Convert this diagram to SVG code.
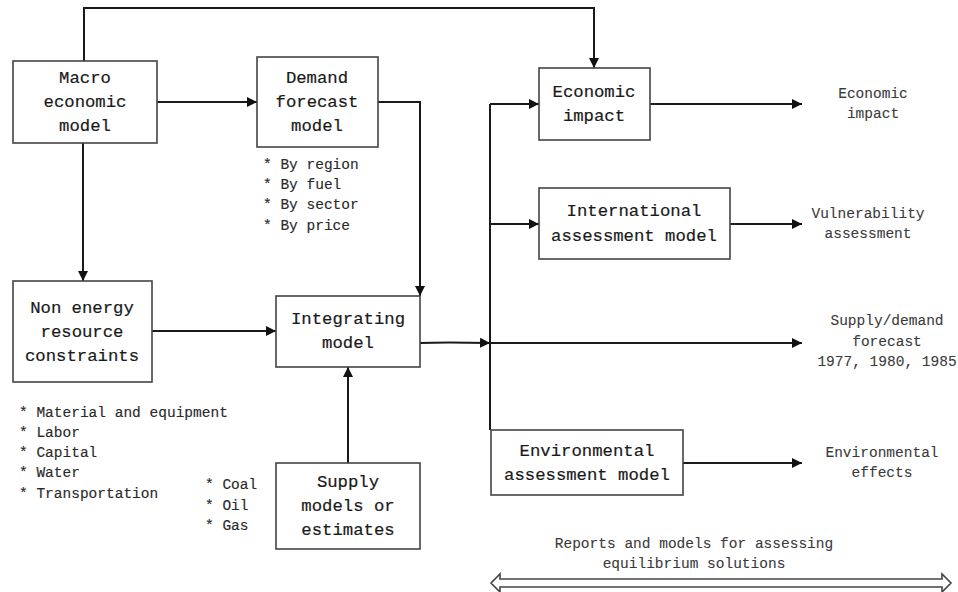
<svg xmlns="http://www.w3.org/2000/svg" width="958" height="592" viewBox="0 0 958 592">
  <defs>
    <marker id="arrow" viewBox="0 0 10 10" refX="10" refY="5" markerWidth="10" markerHeight="10" markerUnits="userSpaceOnUse" orient="auto">
      <path d="M0,0 L10,5 L0,10 Z" fill="#111"/>
    </marker>
    <style>
      .box { fill: #fff; stroke: #444; stroke-width: 1.6; }
      .wire { fill: none; stroke: #1a1a1a; stroke-width: 2; }
      .label { font-family: "Liberation Mono", "DejaVu Sans Mono", monospace; font-size: 17.3px; fill: #1a1a1a; stroke: #1a1a1a; stroke-width: 0.2; text-anchor: middle; }
      .note { font-family: "Liberation Mono", "DejaVu Sans Mono", monospace; font-size: 14.5px; fill: #2a2a2a; stroke: #2a2a2a; stroke-width: 0.15; }
      .out { font-family: "Liberation Mono", "DejaVu Sans Mono", monospace; font-size: 14.5px; fill: #3a3a3a; stroke: #3a3a3a; stroke-width: 0.1; text-anchor: middle; }
    </style>
  </defs>
  <rect width="958" height="592" fill="#fff"/>

  <!-- connectors -->
  <g id="connectors">
    <path class="wire" d="M84,61 V8 H594 V68" marker-end="url(#arrow)"/>
    <path class="wire" d="M157,102 H257" marker-end="url(#arrow)"/>
    <path class="wire" d="M378,102 H420 V296" marker-end="url(#arrow)"/>
    <path class="wire" d="M83,143 V281" marker-end="url(#arrow)"/>
    <path class="wire" d="M152,331 H276" marker-end="url(#arrow)"/>
    <path class="wire" d="M348,463 V367" marker-end="url(#arrow)"/>
    <path class="wire" d="M420,343 C440,342 450,342 490,343" marker-end="url(#arrow)"/>
    <path class="wire" d="M490,430 V104"/>
    <path class="wire" d="M490,104 H539" marker-end="url(#arrow)"/>
    <path class="wire" d="M490,224 H539" marker-end="url(#arrow)"/>
    <path class="wire" d="M490,343 H802" marker-end="url(#arrow)"/>
    <path class="wire" d="M650,104 H802" marker-end="url(#arrow)"/>
    <path class="wire" d="M730,224 H802" marker-end="url(#arrow)"/>
    <path class="wire" d="M683,463 H802" marker-end="url(#arrow)"/>
    <!-- span arrow under the reports caption -->
    <path d="M491,583 L500,574 V579 H942 V574 L951,583 L942,592 V587 H500 V592 Z" fill="#fff" stroke="#444" stroke-width="1.6" stroke-linejoin="miter"/>
  </g>

  <g id="macro">
    <rect class="box" x="13" y="61" width="144" height="82"/>
    <text class="label" x="85" y="83">Macro</text>
    <text class="label" x="85" y="107">economic</text>
    <text class="label" x="85" y="131">model</text>
  </g>

  <g id="demand">
    <rect class="box" x="257" y="57" width="121" height="90"/>
    <text class="label" x="317" y="83">Demand</text>
    <text class="label" x="317" y="107">forecast</text>
    <text class="label" x="317" y="131">model</text>
    <text class="note" x="263" y="169">* By region</text>
    <text class="note" x="263" y="189">* By fuel</text>
    <text class="note" x="263" y="209">* By sector</text>
    <text class="note" x="263" y="230">* By price</text>
  </g>

  <g id="nonenergy">
    <rect class="box" x="13" y="281" width="139" height="101"/>
    <text class="label" x="82" y="313">Non energy</text>
    <text class="label" x="82" y="337">resource</text>
    <text class="label" x="82" y="361">constraints</text>
    <text class="note" x="19" y="417">* Material and equipment</text>
    <text class="note" x="19" y="437">* Labor</text>
    <text class="note" x="19" y="457">* Capital</text>
    <text class="note" x="19" y="477">* Water</text>
    <text class="note" x="19" y="498">* Transportation</text>
  </g>

  <g id="integrating">
    <rect class="box" x="276" y="296" width="144" height="71"/>
    <text class="label" x="348" y="324">Integrating</text>
    <text class="label" x="348" y="348">model</text>
  </g>

  <g id="supply">
    <rect class="box" x="276" y="463" width="144" height="86"/>
    <text class="label" x="348" y="487">Supply</text>
    <text class="label" x="348" y="511">models or</text>
    <text class="label" x="348" y="535">estimates</text>
    <text class="note" x="205" y="489">* Coal</text>
    <text class="note" x="205" y="510">* Oil</text>
    <text class="note" x="205" y="530">* Gas</text>
  </g>

  <g id="economic">
    <rect class="box" x="539" y="68" width="111" height="72"/>
    <text class="label" x="594" y="97">Economic</text>
    <text class="label" x="594" y="121">impact</text>
  </g>

  <g id="international">
    <rect class="box" x="539" y="188" width="191" height="71"/>
    <text class="label" x="634" y="216">International</text>
    <text class="label" x="634" y="241">assessment model</text>
  </g>

  <g id="environmental">
    <rect class="box" x="491" y="430" width="192" height="65"/>
    <text class="label" x="587" y="456">Environmental</text>
    <text class="label" x="587" y="480">assessment model</text>
  </g>

  <g id="outputs">
    <text class="out" x="873" y="98">Economic</text>
    <text class="out" x="873" y="118">impact</text>
    <text class="out" x="868" y="218">Vulnerability</text>
    <text class="out" x="868" y="238">assessment</text>
    <text class="out" x="887" y="325">Supply/demand</text>
    <text class="out" x="887" y="346">forecast</text>
    <text class="out" x="887" y="366">1977, 1980, 1985</text>
    <text class="out" x="882" y="457">Environmental</text>
    <text class="out" x="882" y="477">effects</text>
    <text class="out" x="694" y="548">Reports and models for assessing</text>
    <text class="out" x="694" y="568">equilibrium solutions</text>
  </g>
</svg>
